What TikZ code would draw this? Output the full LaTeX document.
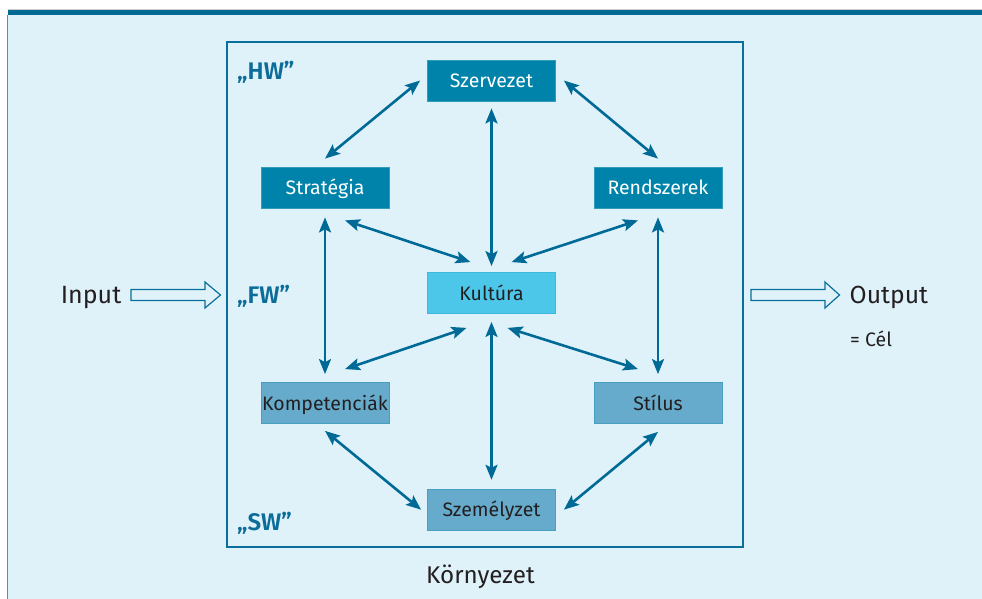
\documentclass[tikz,border=0pt]{standalone}
\usepackage{fontspec}
\setmainfont{Fira Sans}
\newfontfamily\layerfont{Fira Sans}[UprightFont={* SemiBold}]
\usetikzlibrary{arrows.meta}

\definecolor{bgblue}{HTML}{DFF2FA}
\definecolor{bandblue}{HTML}{006A95}
\definecolor{frameblue}{HTML}{0B6F9D}
\definecolor{arrowblue}{HTML}{006A97}
\definecolor{darkbox}{HTML}{0083AA}
\definecolor{cyanbox}{HTML}{4CC7EA}
\definecolor{midbox}{HTML}{66ABCB}
\definecolor{labelblue}{HTML}{0C6D9A}
\definecolor{textdark}{HTML}{231F20}

\tikzset{
 box/.style={minimum width=128pt, minimum height=41pt, inner sep=0pt,
   text height=14pt, text depth=0pt, font=\fontsize{19.5}{19.5}\selectfont, line width=0.8pt},
 hwbox/.style={box, fill=darkbox, draw=darkbox!80!white, text=white},
 fwbox/.style={box, fill=cyanbox, draw=cyanbox!80!darkbox, text=textdark},
 swbox/.style={box, fill=midbox, draw=midbox!70!darkbox, text=textdark},
 layer/.style={font=\layerfont\fontsize{24}{24}\selectfont, text=labelblue, inner sep=0pt, anchor=base west},
 plain/.style={font=\fontsize{25}{25}\selectfont, text=textdark, inner sep=0pt},
 twoway/.style={line width=2.6pt, draw=arrowblue,
   {Stealth[length=15pt,width=12pt,inset=3pt]}-{Stealth[length=15pt,width=12pt,inset=3pt]}},
 hollow/.style={draw=frameblue, line width=1.2pt, fill=bgblue, line join=miter}
}

\begin{document}
\begin{tikzpicture}[x=1pt,y=-1pt]
 \useasboundingbox (0,0) rectangle (982,599);
 \fill[white] (0,0) rectangle (982,599);
 \fill[bgblue] (7.5,12) rectangle (982,599);
 \draw[gray!40, line width=0.6pt] (7.5,9.4)--(982,9.4);
 \fill[bandblue] (7.5,10) rectangle (982,15);
 \draw[frameblue!75!white, line width=1.5pt] (7.5,15)--(7.5,599);
 % inner frame
 \draw[frameblue, line width=2.2pt] (227,42) rectangle (743,547);
 \node[layer] (hw) at (237,80) {„HW”};
 \node[layer] (fw) at (237,303) {„FW”};
 \node[layer] (sw) at (237,530) {„SW”};
 % boxes
 \node[hwbox] (szervezet) at (491.5,80.5) {Szervezet};
 \node[hwbox] (strategia) at (325,187.5) {Stratégia};
 \node[hwbox] (rendszerek) at (658,187.5) {Rendszerek};
 \node[fwbox] (kultura) at (491.5,293) {Kultúra};
 \node[swbox] (kompetenciak) at (325,403) {Kompetenciák};
 \node[swbox] (stilus) at (658,403) {Stílus};
 \node[swbox] (szemelyzet) at (491.5,509.7) {Személyzet};
 % connectors
 \draw[twoway] ([xshift=-7pt]szervezet.west) -- ([yshift=8pt]strategia.north);
 \draw[twoway] ([xshift=8pt]szervezet.east) -- ([yshift=8pt]rendszerek.north);
 \draw[twoway] ([yshift=-7pt]szervezet.south) -- ([yshift=6pt]kultura.north);
 \draw[twoway] ([xshift=20pt,yshift=-12pt]strategia.south) -- ([xshift=-21pt,yshift=10pt]kultura.north);
 \draw[twoway] ([xshift=-20pt,yshift=-12pt]rendszerek.south) -- ([xshift=20pt,yshift=10pt]kultura.north);
 \draw[twoway] ([yshift=-9pt]strategia.south) -- ([yshift=8pt]kompetenciak.north);
 \draw[twoway] ([yshift=-9pt]rendszerek.south) -- ([yshift=8pt]stilus.north);
 \draw[twoway] ([xshift=-25pt,yshift=-14pt]kultura.south) -- ([xshift=20pt,yshift=13pt]kompetenciak.north);
 \draw[twoway] ([xshift=16pt,yshift=-14pt]kultura.south) -- ([xshift=-20pt,yshift=13pt]stilus.north);
 \draw[twoway] ([yshift=-8pt]kultura.south) -- ([yshift=9pt]szemelyzet.north);
 \draw[twoway] ([yshift=-7pt]kompetenciak.south) -- ([xshift=-6pt]szemelyzet.west);
 \draw[twoway] ([yshift=-8pt]stilus.south) -- ([xshift=8pt]szemelyzet.east);
 % input / output
 \node[plain, anchor=base east] (input) at (121.5,303) {Input};
 \draw[hollow] (131,289.5)--(205,289.5)--(205,282)--(220.5,295)--(205,308)--(205,300.5)--(131,300.5)--cycle;
 \draw[hollow] (751,289.5)--(825,289.5)--(825,282)--(839.5,295)--(825,308)--(825,300.5)--(751,300.5)--cycle;
 \node[plain, anchor=base west, font=\fontsize{24.7}{24.7}\selectfont] (output) at (849.5,303) {Output};
 \node[plain, anchor=base west, font=\fontsize{19.5}{19.5}\selectfont] (cel) at (850,346) {= Cél};
 \node[plain, anchor=base, font=\fontsize{24.2}{24.2}\selectfont] (kornyezet) at (480.5,583) {Környezet};
\end{tikzpicture}
\end{document}
